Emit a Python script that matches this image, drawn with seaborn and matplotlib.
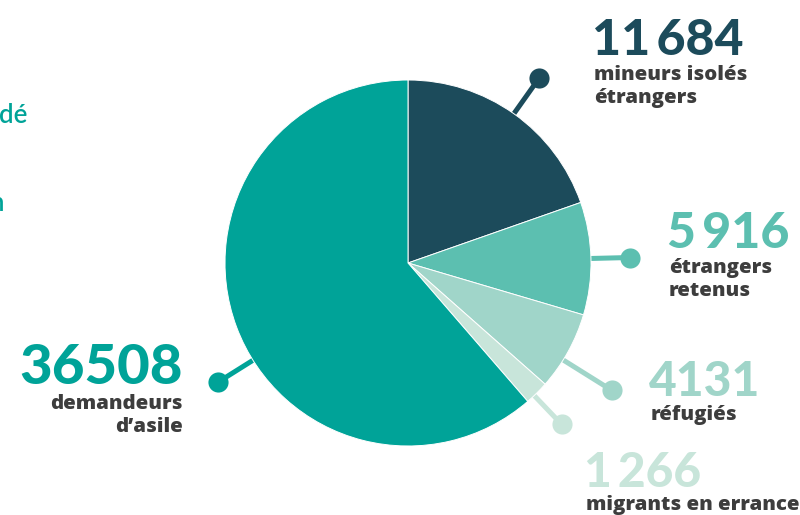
import numpy as np
import matplotlib
matplotlib.use("Agg")
import matplotlib.pyplot as plt
import seaborn as sns

# Publics accueillis, par catégorie (ordre horaire depuis midi)
categories = ["mineurs isolés\nétrangers", "étrangers\nretenus", "réfugiés",
              "migrants en errance", "demandeurs\nd’asile"]
values = [11684, 5916, 4131, 1266, 36508]
value_labels = ["11\u2009684", "5\u2009916", "4131", "1\u2009266", "36508"]
colors = ["#1c4b5b", "#5cbfb0", "#a0d5c9", "#c8e5da", "#00a398"]

sns.set_theme(style="white")
plt.rcParams["font.family"] = ["Lato", "DejaVu Sans"]

W, H = 800, 515
fig = plt.figure(figsize=(W / 100, H / 100), dpi=100)
ax = fig.add_axes([0, 0, 1, 1])

cx, cy, r = 408, H - 263, 183

wedges, _ = ax.pie(values, colors=colors, startangle=90, counterclock=False,
                   center=(cx, cy), radius=r, frame=True,
                   wedgeprops=dict(edgecolor="white", linewidth=0.7, zorder=3))
ax.set_xlim(0, W)
ax.set_ylim(0, H)
ax.set_axis_off()

# connector placement: angle (deg clockwise from top) and reach of the dot
total = sum(values)
cum = np.cumsum([0] + values)
mid_angles = [(cum[i] + values[i] / 2) / total * 360 for i in range(len(values))]
leader_angle = [mid_angles[0], mid_angles[1], 122.0, 136.4, 237.9]
leader_reach = [227, 222, 240, 223, 224]

for ang, reach, col in zip(leader_angle, leader_reach, colors):
    t = np.deg2rad(ang)
    x = cx + reach * np.sin(t)
    y = cy + reach * np.cos(t)
    ax.plot([cx, x], [cy, y], color=col, lw=3.6, zorder=1,
            solid_capstyle="butt")
    ax.plot([x], [y], "o", color=col, ms=14.5, mec="none", zorder=4)

# value + caption blocks: (x, number baseline, alignment, number size, caption gap)
blocks = [
    (592, 55, "left", 36, 25),
    (667, 248, "left", 36, 25),
    (649, 396, "left", 34.5, 24),
    (584, 487, "left", 34.5, 23),
    (183, 384, "right", 40.5, 25),
]
label_color = "#3d3d3d"
for (x, base, ha, size, gap), num, lab, col in zip(blocks, value_labels, categories, colors):
    ax.text(x, H - base, num, ha=ha, va="baseline", color=col,
            fontsize=size, fontweight="black", zorder=5)
    for j, line in enumerate(lab.split("\n")):
        yb = base + gap + 23 * j
        ax.text(x + (2 if ha == "left" else 0), H - yb, line, ha=ha,
                va="baseline", color=label_color, fontsize=14.7,
                fontweight=800, family=["Open Sans", "DejaVu Sans"], zorder=5)

# text running in from the left margin
ax.text(-1, H - 123, "dé", ha="left", va="baseline", color="#00a398",
        fontsize=18.5, fontweight="semibold")
ax.text(-11, H - 211, "n", ha="left", va="baseline", color="#00a398",
        fontsize=18.5, fontweight="semibold")

fig.savefig("out.png", dpi=100)
